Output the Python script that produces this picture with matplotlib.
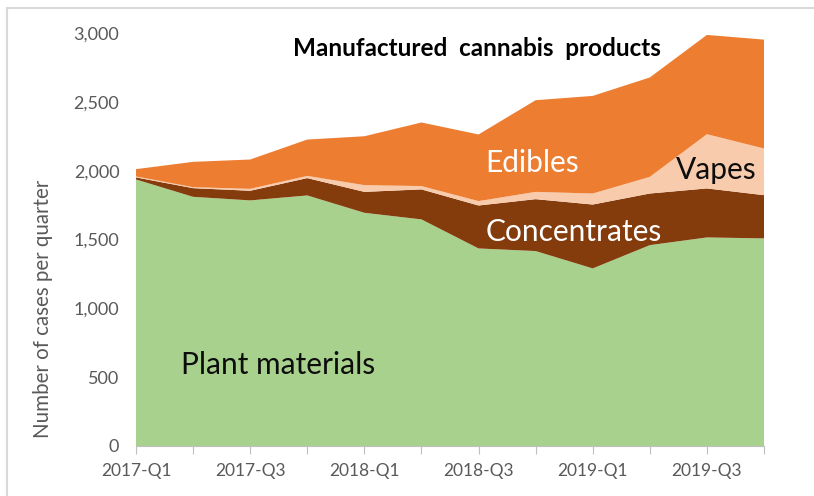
import matplotlib
matplotlib.use("Agg")
import matplotlib.pyplot as plt
from matplotlib.ticker import FuncFormatter
from matplotlib.lines import Line2D

quarters = ["2017-Q1", "2017-Q2", "2017-Q3", "2017-Q4",
            "2018-Q1", "2018-Q2", "2018-Q3", "2018-Q4",
            "2019-Q1", "2019-Q2", "2019-Q3", "2019-Q4"]
plant = [1936, 1810, 1784, 1820, 1694, 1646, 1435, 1416, 1290, 1459, 1515, 1508]
concentrates = [15, 63, 70, 126, 152, 218, 312, 377, 464, 375, 356, 314]
vapes = [7, 7, 14, 16, 49, 24, 32, 53, 80, 121, 394, 339]
edibles = [53, 184, 213, 264, 355, 462, 484, 666, 709, 722, 721, 791]

colors = ["#A9D18E", "#843C0C", "#F8CBAD", "#ED7D31"]

plt.rcParams["font.family"] = ["Lato", "DejaVu Sans"]

W, H = 814, 496
fig = plt.figure(figsize=(W / 100, H / 100), dpi=100)
ax = fig.add_axes([136 / W, (H - 446) / H, (764 - 136) / W, (446 - 33) / H])

x = list(range(len(quarters)))
ax.stackplot(x, plant, concentrates, vapes, edibles, colors=colors, linewidth=0)

ax.set_xlim(0, len(quarters) - 1)
ax.set_ylim(0, 3000)
ax.set_yticks(range(0, 3001, 500))
ax.yaxis.set_major_formatter(FuncFormatter(lambda v, p: f"{int(v):,}"))
ax.set_xticks(x)
ax.set_xticklabels([q if i % 2 == 0 else "" for i, q in enumerate(quarters)])

for s in ["top", "right", "left"]:
    ax.spines[s].set_visible(False)
ax.spines["bottom"].set_color("#BFBFBF")
ax.spines["bottom"].set_zorder(5)
ax.tick_params(axis="y", length=0, pad=12, labelsize=13, labelcolor="#595959")
ax.tick_params(axis="x", length=6, color="#BFBFBF", pad=6, labelsize=12.5, labelcolor="#595959")

fig.text(43 / W, 1 - 309 / H, "Number of cases per quarter", rotation=90,
         ha="center", va="center", fontsize=14.8, color="#595959")

ax.text(5.97, 2891, "Manufactured  cannabis  products", ha="center", va="center",
        fontsize=17.5, fontweight="bold", color="#000000")
ax.text(6.94, 2056, "Edibles", ha="center", va="center", fontsize=21.5, color="white")
ax.text(10.16, 2005, "Vapes", ha="center", va="center", fontsize=21.5, color="#0d0d0d")
ax.text(7.67, 1554, "Concentrates", ha="center", va="center", fontsize=21.5, color="white")
ax.text(2.49, 588, "Plant materials", ha="center", va="center", fontsize=21.5, color="#0d0d0d")

# chart border (cropped on the right and bottom)
fig.add_artist(Line2D([7 / W, 1], [1 - 8 / H, 1 - 8 / H], color="#D9D9D9", lw=1.5))
fig.add_artist(Line2D([7 / W, 7 / W], [0, 1 - 8 / H], color="#D9D9D9", lw=1.5))

fig.savefig("out.png", dpi=100)
